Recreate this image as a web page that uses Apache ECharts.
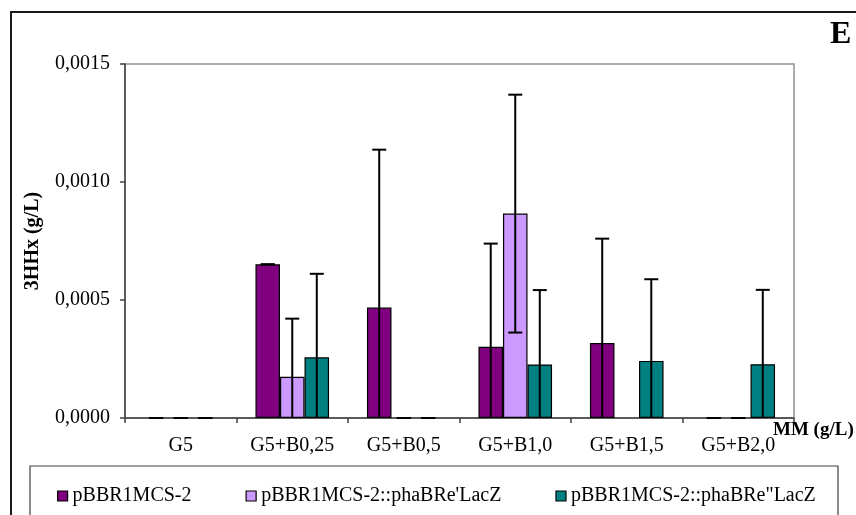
<!DOCTYPE html>
<html>
<head>
<meta charset="utf-8">
<script src="https://cdn.jsdelivr.net/npm/echarts@6/dist/echarts.min.js"></script>
<style>
html,body{margin:0;padding:0;background:#fff;}
#chart{width:856px;height:515px;}
</style>
</head>
<body>
<div id="chart"></div>
<script>
// ---- data ----
var categories = ['G5', 'G5+B0,25', 'G5+B0,5', 'G5+B1,0', 'G5+B1,5', 'G5+B2,0'];
var seriesNames = ['pBBR1MCS-2', "pBBR1MCS-2::phaBRe'LacZ", 'pBBR1MCS-2::phaBRe"LacZ'];
var valuesMCS = [0, 0.000651, 0.000468, 0.000302, 0.000318, 0];
var errorsMCS = [0, 0, 0.000669, 0.000437, 0.000442, 0];
var valuesLacZ1 = [0, 0.000175, 0, 0.000866, null, 0];
var errorsLacZ1 = [0, 0.000246, 0, 0.000504, null, 0];
var valuesLacZ2 = [0, 0.000257, 0, 0.000227, 0.000242, 0.000228];
var errorsLacZ2 = [0, 0.000354, 0, 0.000315, 0.000346, 0.000315];
var yTicks = { min: 0, max: 0.0015, interval: 0.0005 };
var xAxisTitle = 'MM (g/L)';
var yAxisTitle = '3HHx (g/L)';
var panelLabel = 'E';

var colors = ['#800080', '#CC99FF', '#008080'];
var allValues = [valuesMCS, valuesLacZ1, valuesLacZ2];
var allErrors = [errorsMCS, errorsLacZ1, errorsLacZ2];
var font = 'Liberation Serif';
var CAT_GAP = 0.34;

var series = [];
allValues.forEach(function (vals, si) {
  series.push({
    name: seriesNames[si],
    type: 'bar',
    barGap: 0,
    barCategoryGap: (CAT_GAP * 100) + '%',
    itemStyle: { color: colors[si], borderColor: '#000', borderWidth: 1.2 },
    data: vals.map(function (v) {
      if (v === null) return '-';
      if (v === 0) return { value: 0, itemStyle: { borderWidth: 0 } };
      return v;
    }),
    z: 2
  });
});
allValues.forEach(function (vals, si) {
  var errData = [];
  vals.forEach(function (v, i) {
    if (v !== null && allErrors[si][i] !== null) errData.push([i, v, allErrors[si][i]]);
  });
  series.push({
    type: 'custom',
    name: seriesNames[si] + ' err',
    silent: true,
    z: 5,
    encode: { x: 0, y: 1 },
    data: errData,
    renderItem: (function (idx) {
      return function (params, api) {
        var ci = api.value(0), v = api.value(1), e = api.value(2);
        var band = api.size([1, 0])[0];
        var bw = band * (1 - CAT_GAP) / 3;
        var x = api.coord([ci, 0])[0] + (idx - 1) * bw;
        var yTop = api.coord([ci, v + e])[1];
        var lowVal = v - e;
        var yLow = api.coord([ci, Math.max(0, lowVal)])[1];
        var half = 7;
        var st = { stroke: '#000', lineWidth: 2 };
        var children = [
          { type: 'line', shape: { x1: x, y1: yTop, x2: x, y2: yLow }, style: st },
          { type: 'line', shape: { x1: x - half, y1: yTop, x2: x + half, y2: yTop }, style: st }
        ];
        if (lowVal >= 0) {
          children.push({ type: 'line', shape: { x1: x - half, y1: yLow, x2: x + half, y2: yLow }, style: st });
        }
        return { type: 'group', children: children };
      };
    })(si)
  });
});

var chart = echarts.init(document.getElementById('chart'), null, { renderer: 'canvas' });
chart.setOption({
  backgroundColor: '#fff',
  animation: false,
  color: colors,
  textStyle: { fontFamily: font },
  grid: {
    left: 125, top: 64, right: 62, bottom: 97,
    containLabel: false,
    outerBoundsMode: 'none',
    show: true, borderColor: '#909090', borderWidth: 1.5, backgroundColor: 'transparent'
  },
  legend: {
    data: seriesNames,
    left: 52, top: 481,
    itemWidth: 10, itemHeight: 10, itemGap: 54,
    icon: 'rect',
    itemStyle: { borderColor: '#000', borderWidth: 1.2 },
    textStyle: { fontFamily: font, fontSize: 20, color: '#000' }
  },
  xAxis: {
    type: 'category',
    data: categories,
    axisLine: { lineStyle: { color: '#404040', width: 1.5 } },
    axisTick: { show: true, length: 5, lineStyle: { color: '#404040', width: 1.5 } },
    axisLabel: { fontFamily: font, fontSize: 20, color: '#000', margin: 18 },
    splitLine: { show: false }
  },
  yAxis: {
    type: 'value',
    min: yTicks.min, max: yTicks.max, interval: yTicks.interval,
    name: yAxisTitle,
    nameLocation: 'middle',
    nameGap: 82,
    nameTextStyle: { fontFamily: font, fontSize: 20, fontWeight: 'bold', color: '#000' },
    axisLine: { show: true, lineStyle: { color: '#404040', width: 1.5 } },
    axisTick: { show: true, length: 5, lineStyle: { color: '#404040', width: 1.5 } },
    axisLabel: {
      fontFamily: font, fontSize: 20, color: '#000', margin: 15,
      formatter: function (v) { return v.toFixed(4).replace('.', ','); }
    },
    splitLine: { show: false }
  },
  graphic: [
    { type: 'rect', shape: { x: 11, y: 12, width: 900, height: 600 }, style: { fill: 'none', stroke: '#1a1a1a', lineWidth: 2 }, z: 0, silent: true },
    { type: 'rect', shape: { x: 30, y: 466, width: 808, height: 100 }, style: { fill: 'none', stroke: '#404040', lineWidth: 1.2 }, z: 0, silent: true },
    { type: 'text', left: 773, top: 421, z: 10, style: { text: xAxisTitle, font: 'bold 19px "Liberation Serif"', fill: '#000' }, silent: true },
    { type: 'text', left: 830, top: 19, style: { text: panelLabel, font: 'bold 32px "Liberation Serif"', fill: '#000' }, silent: true }
  ],
  series: series
});
</script>
</body>
</html>
